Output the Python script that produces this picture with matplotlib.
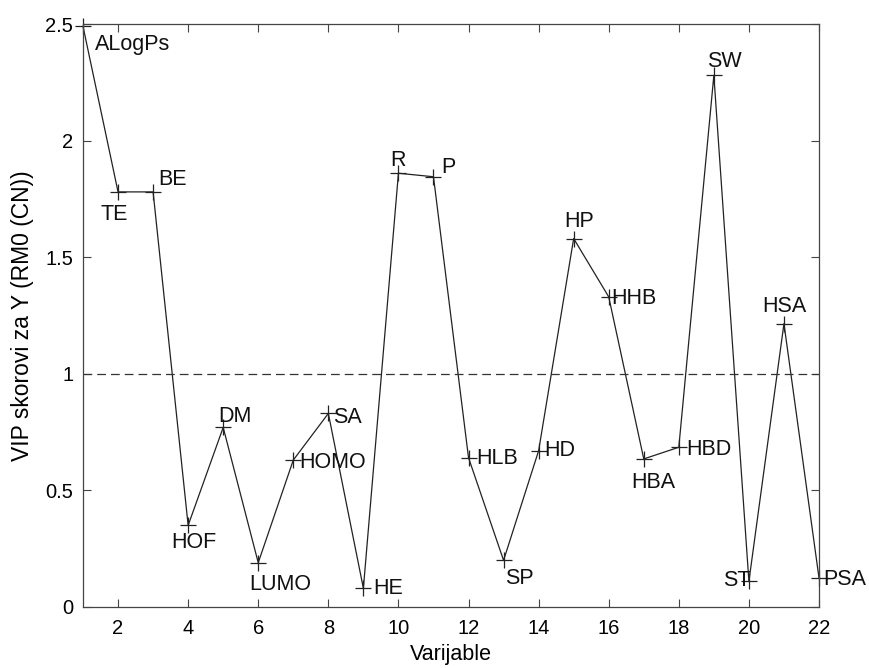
import matplotlib.pyplot as plt

plt.rcParams['font.family'] = ['Liberation Sans', 'DejaVu Sans']

# VIP scores per variable
variables = list(range(1, 23))
names = ["ALogPs", "TE", "BE", "HOF", "DM", "LUMO", "HOMO", "SA", "HE", "R", "P",
         "HLB", "SP", "HD", "HP", "HHB", "HBA", "HBD", "SW", "ST", "HSA", "PSA"]
vip = [2.49, 1.78, 1.78, 0.35, 0.77, 0.19, 0.63, 0.83, 0.08, 1.86, 1.845,
       0.64, 0.20, 0.67, 1.58, 1.33, 0.635, 0.685, 2.28, 0.11, 1.215, 0.125]
threshold = 1.0

# label offsets in pixels (dx, dy) and horizontal alignment
label_pos = [(12, -18, "left"), (-4, -23, "center"), (5, 12, "left"), (6, -17, "center"),
             (-5, 11, "left"), (22, -22, "center"), (6, -2, "left"), (5, -4, "left"),
             (10, 0, "left"), (0, 13, "center"), (8, 9, "left"), (8, -1, "left"),
             (16, -18, "center"), (6, 0, "left"), (-9, 17, "left"), (3, -2, "left"),
             (10, -24, "center"), (7, -2, "left"), (-7, 14, "left"), (2, 1, "right"),
             (0, 17, "center"), (4, -2, "left")]

fig = plt.figure(figsize=(8.7, 6.68), dpi=100)
ax = fig.add_axes([83 / 870, 1 - 607 / 668, (819 - 83) / 870, (607 - 24) / 668])

ax.plot(variables, vip, color="#222222", linewidth=0.9, marker="+",
        markersize=11, markeredgewidth=0.9, clip_on=False)
ax.axhline(threshold, color="#333333", linewidth=0.9, linestyle=(0, (7, 4)))

for x, y, name, (dx, dy, ha) in zip(variables, vip, names, label_pos):
    ax.annotate(name, (x, y), xytext=(dx, dy), textcoords="offset pixels",
                ha=ha, va="center", fontsize=15.5, color="#111111")

ax.set_xlim(1, 22)
ax.set_ylim(0, 2.5)
ax.set_xticks(range(2, 23, 2))
ax.set_yticks([0, 0.5, 1, 1.5, 2, 2.5])
ax.set_yticklabels(["0", "0.5", "1", "1.5", "2", "2.5"])
ax.tick_params(direction="in", top=True, right=True, length=6, width=0.8,
               color="#444444", labelsize=14.5, pad=7)
ax.tick_params(axis="x", pad=9)
for s in ax.spines.values():
    s.set_color("#444444")
    s.set_linewidth(0.9)

ax.set_xlabel("Varijable", fontsize=15.5, labelpad=4)
ax.set_ylabel("VIP skorovi za Y (RM0 (CN))", fontsize=16.5, labelpad=8)

fig.savefig("out.png", dpi=100)
